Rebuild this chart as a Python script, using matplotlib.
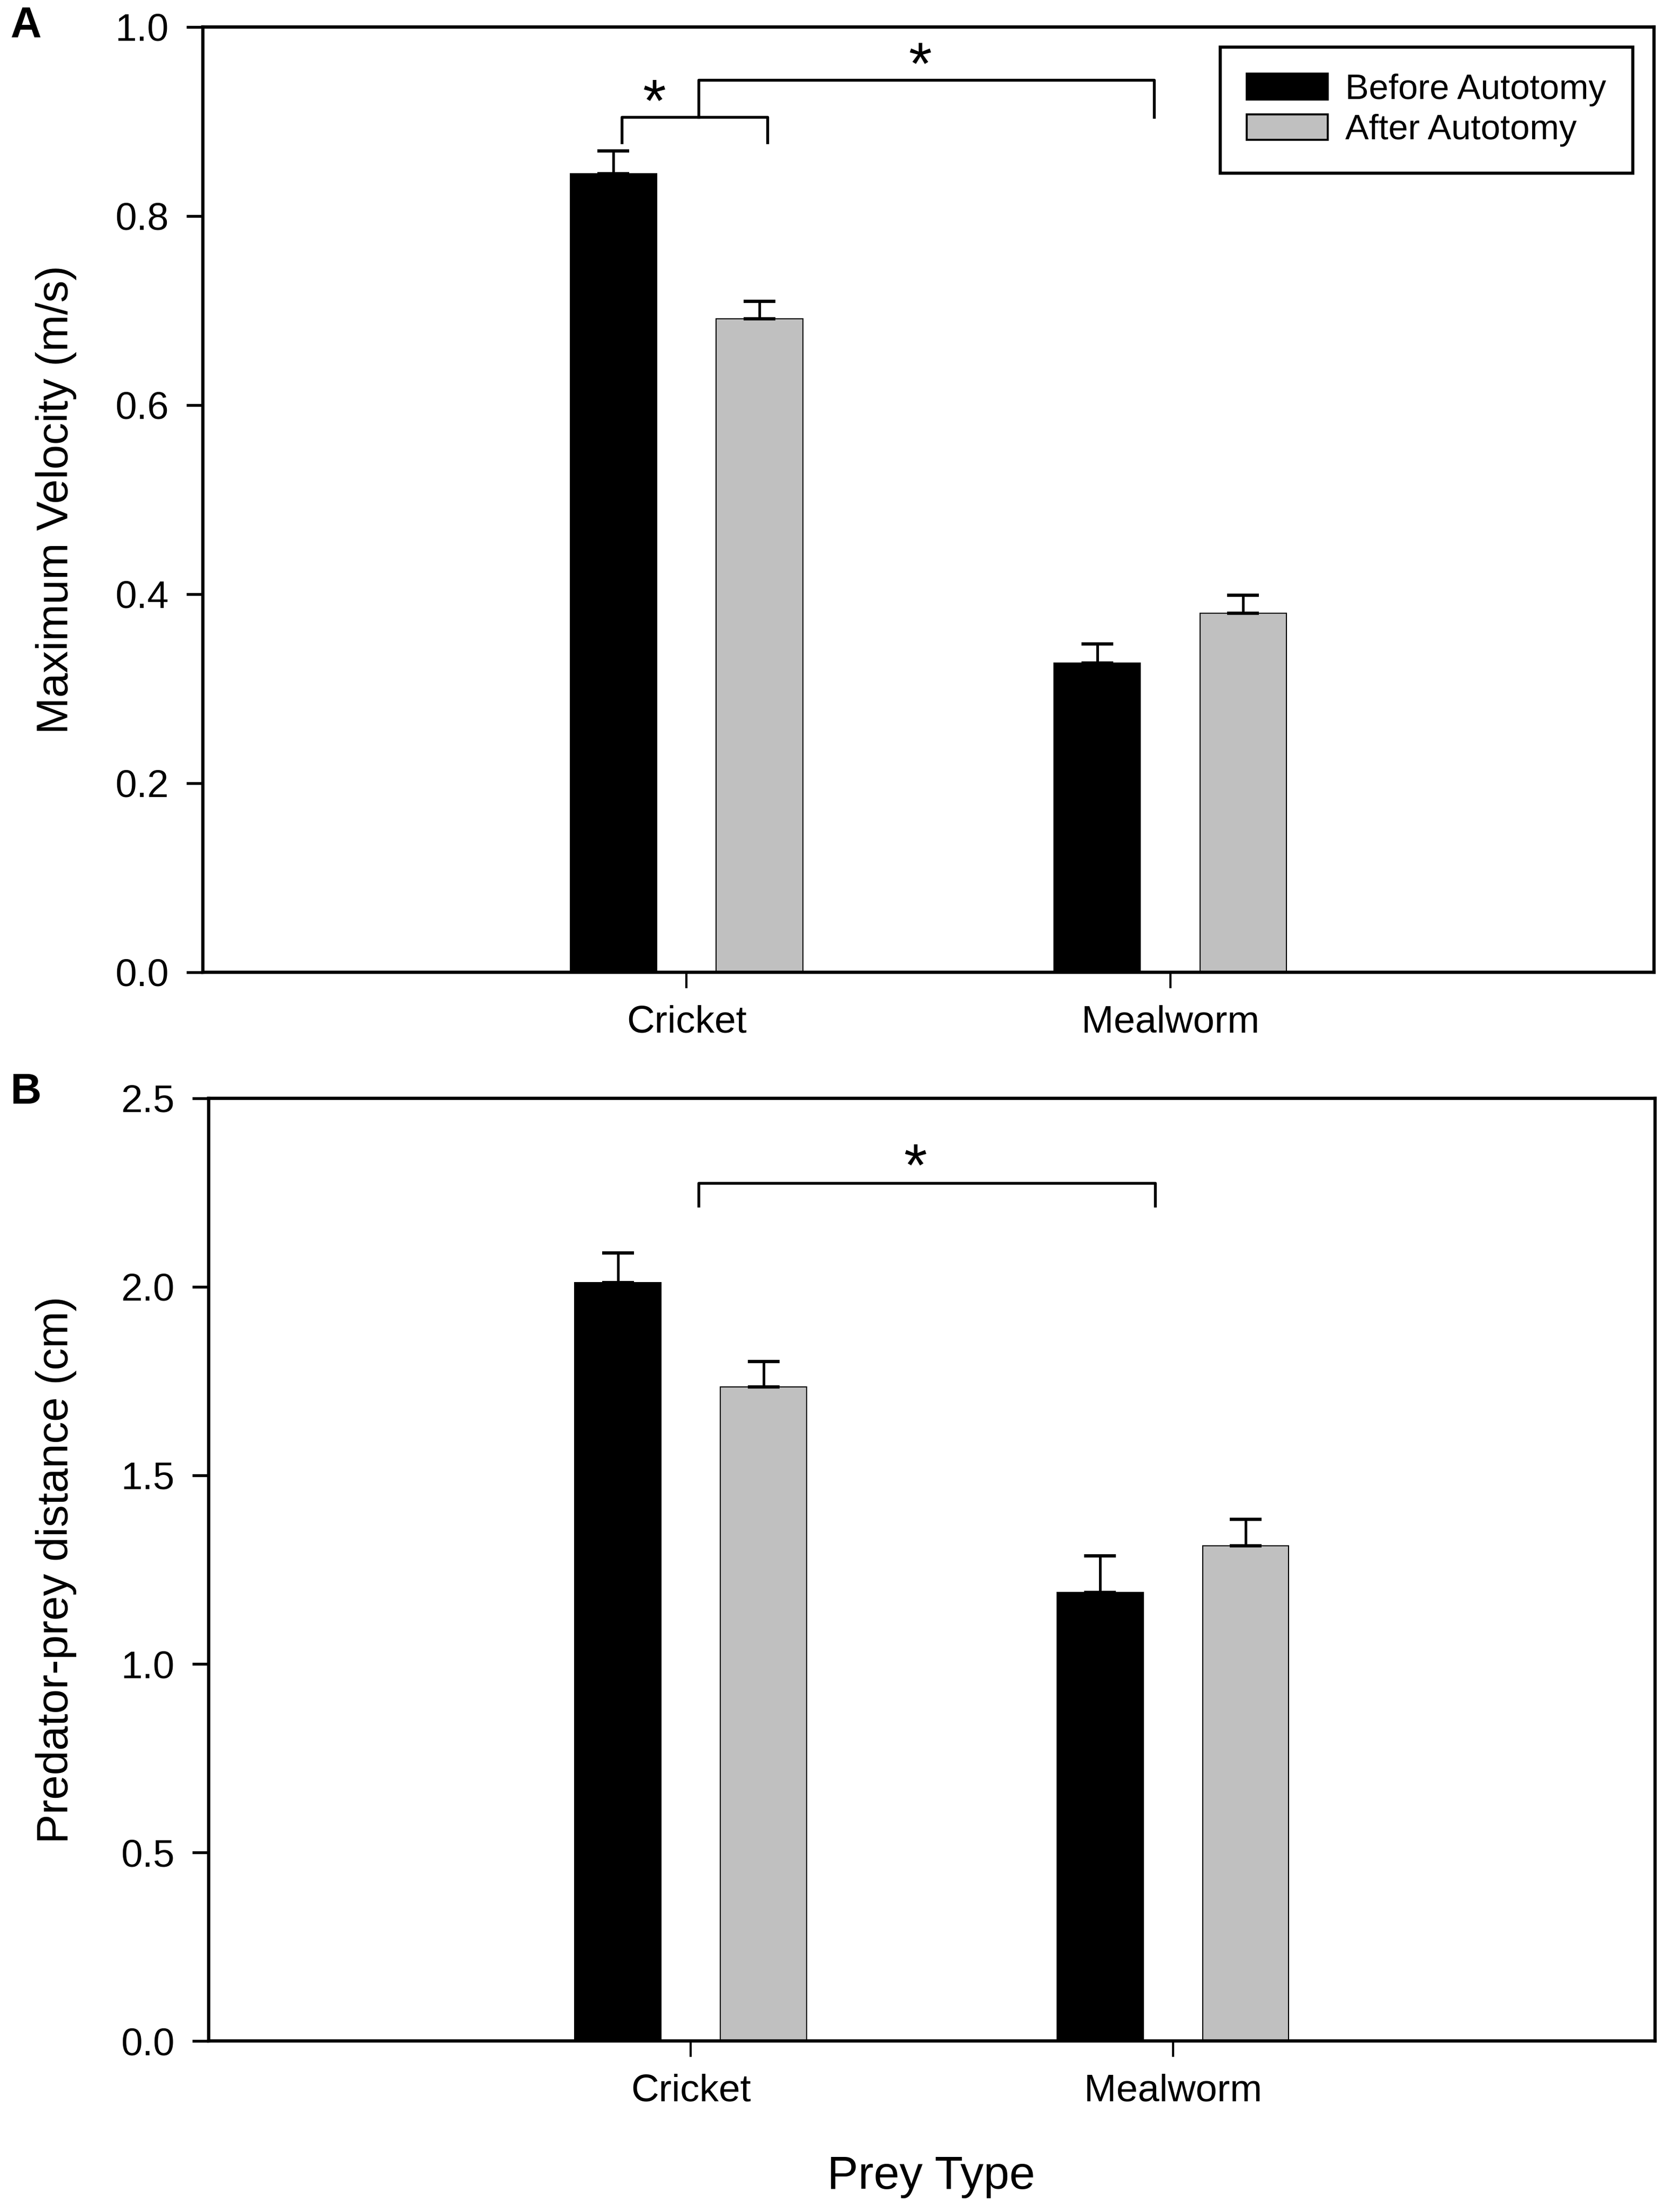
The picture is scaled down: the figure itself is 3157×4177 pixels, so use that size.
import numpy as np
import matplotlib
matplotlib.use("Agg")
import matplotlib.pyplot as plt
from matplotlib.patches import Patch

prey = ["Cricket", "Mealworm"]
series = ["Before Autotomy", "After Autotomy"]

vel_before = [0.845, 0.327]
vel_before_err = [0.024, 0.020]
vel_after = [0.691, 0.380]
vel_after_err = [0.019, 0.019]

dist_before = [2.011, 1.190]
dist_before_err = [0.079, 0.097]
dist_after = [1.735, 1.313]
dist_after_err = [0.067, 0.071]

colors = ["#000000", "#c0c0c0"]
font = ["Liberation Sans", "DejaVu Sans"]

W, H = 3157, 4177
fig = plt.figure(figsize=(W / 300, H / 300), dpi=300)

x = np.array([1.0, 2.0])
bw = 0.179
off = 0.151


def panel(rect, before, b_err, after, a_err, ymax, ystep, ylabel):
    ax = fig.add_axes(rect)
    ax.bar(x - off, before, bw, color=colors[0], edgecolor="black", linewidth=0.5)
    ax.bar(x + off, after, bw, color=colors[1], edgecolor="black", linewidth=0.5)
    for xs, vals, errs in ((x - off, before, b_err), (x + off, after, a_err)):
        ax.errorbar(xs, vals, yerr=[np.zeros(len(vals)), errs], fmt="none",
                    ecolor="black", elinewidth=1.2, capsize=7.2, capthick=1.5)
    ax.set_xlim(0, 3)
    ax.set_ylim(0, ymax)
    ticks = np.arange(0, ymax + 1e-9, ystep)
    ax.set_yticks(ticks)
    ax.set_yticklabels([f"{v:.1f}" for v in ticks], family=font, fontsize=17.5)
    ax.set_xticks(x)
    ax.set_xticklabels(prey, family=font, fontsize=17.5)
    ax.tick_params(axis="y", direction="out", length=7.4, width=1.3, pad=8)
    ax.tick_params(axis="x", direction="out", length=7.2, width=1.0, pad=7.5)
    for s in ax.spines.values():
        s.set_linewidth(1.5)
    ax.set_ylabel(ylabel, family=font, fontsize=20)
    ax.yaxis.set_label_coords(0.046, rect[1] + rect[3] / 2, transform=fig.transFigure)
    return ax


axA = panel([0.1213, 0.5605, 0.8679, 0.4273], vel_before, vel_before_err,
            vel_after, vel_after_err, 1.0, 0.2, "Maximum Velocity (m/s)")
axB = panel([0.1248, 0.0773, 0.865, 0.4262], dist_before, dist_before_err,
            dist_after, dist_after_err, 2.5, 0.5, "Predator-prey distance (cm)")

# significance brackets, panel A
lw_br = 1.3
axA.plot([0.866, 0.866, 1.167, 1.167], [0.878, 0.905, 0.905, 0.878], color="black", lw=lw_br)
axA.plot([1.025, 1.025, 1.967, 1.967], [0.905, 0.944, 0.944, 0.905], color="black", lw=lw_br)
axA.text(0.933, 0.917, "*", ha="center", va="center", fontsize=27, family=font)
axA.text(1.483, 0.956, "*", ha="center", va="center", fontsize=27, family=font)

# panel B
axB.plot([1.016, 1.016, 1.963, 1.963], [2.215, 2.275, 2.275, 2.215], color="black", lw=lw_br)
axB.text(1.466, 2.31, "*", ha="center", va="center", fontsize=27, family=font)

handles = [Patch(facecolor=c, edgecolor="black", linewidth=0.9) for c in colors]
leg = axA.legend(handles, series, loc="upper right",
                 bbox_to_anchor=(0.9766, 0.9788), bbox_transform=fig.transFigure,
                 frameon=True, fancybox=False, framealpha=1, edgecolor="black",
                 prop={"family": font, "size": 16}, handlelength=2.3, handleheight=0.75,
                 borderpad=0.75, labelspacing=0.22, handletextpad=0.5, borderaxespad=0)
leg.get_frame().set_linewidth(1.4)

fig.text(0.557, 0.0105, "Prey Type", ha="center", va="baseline", family=font, fontsize=21)
fig.text(0.0063, 0.9883, "A", ha="left", va="center", family=font, fontsize=19.5, weight="bold")
fig.text(0.0063, 0.506, "B", ha="left", va="center", family=font, fontsize=19.5, weight="bold")

fig.savefig("out.png", dpi=300)
